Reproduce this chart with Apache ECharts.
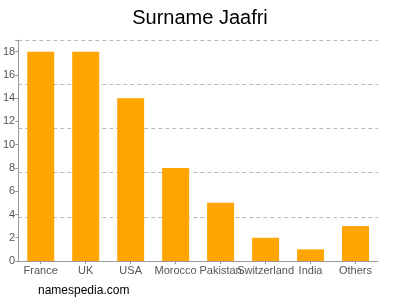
<!DOCTYPE html>
<html><head><meta charset="utf-8">
<script src="https://cdn.jsdelivr.net/npm/echarts@6/dist/echarts.min.js"></script>
<style>html,body{margin:0;padding:0;background:#fff}#c{width:400px;height:300px}</style>
</head><body><div id="c"></div>
<script>
const categories = ["France","UK","USA","Morocco","Pakistan","Switzerland","India","Others"];
const values = [18, 18, 14, 8, 5, 2, 1, 3];
const yTicks = [0,2,4,6,8,10,12,14,16,18];
const chart = echarts.init(document.getElementById('c'), null, {renderer:'canvas'});
chart.setOption({
  animation:false,
  title:{text:"Surname Jaafri", left:'center', top:3, textStyle:{fontFamily:'Liberation Sans, Arial', fontSize:20, fontWeight:'normal', color:'#000'}},
  graphic:[{type:'text', left:38, top:285, style:{text:'namespedia.com', fontFamily:'Liberation Sans, Arial', fontSize:12, fill:'#000'}}],
  grid:{left:18, right:22, top:40, bottom:39},
  xAxis:{type:'category', data:categories,
    axisLine:{lineStyle:{color:'#999'}},
    axisTick:{show:true, alignWithLabel:true, length:3, lineStyle:{color:'#999'}},
    axisLabel:{color:'#555', fontFamily:'Liberation Sans, Arial', fontSize:11, interval:0, margin:4}},
  yAxis:[{type:'value', min:0, max:19, interval:2,
    axisLine:{show:true, lineStyle:{color:'#999'}},
    axisTick:{show:true, length:3, lineStyle:{color:'#999'}},
    splitLine:{show:false},
    axisLabel:{color:'#555', fontFamily:'Liberation Sans, Arial', fontSize:11, margin:3,
      formatter:function(v){return yTicks.indexOf(v)>=0 ? String(v) : '';}}},
   {type:'value', min:0, max:5, interval:1, show:true, position:'right',
    axisLine:{show:false}, axisTick:{show:false}, axisLabel:{show:false},
    splitLine:{show:true, lineStyle:{color:'#bbb', type:[4,3], width:1}}}],
  series:[{type:'bar', data:values, barWidth:'60%', yAxisIndex:0, itemStyle:{color:'#FFA500'}}]
});
</script></body></html>
